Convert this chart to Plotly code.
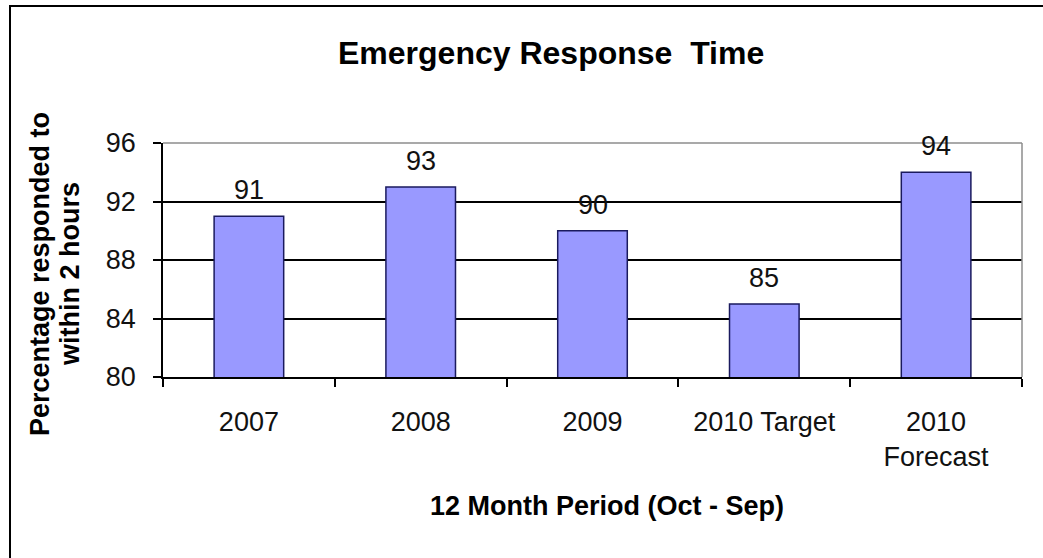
import plotly.graph_objects as go

# ---- data ----
categories = ["2007", "2008", "2009", "2010 Target", "2010<br>Forecast"]
values = [91, 93, 90, 85, 94]
y_ticks = [80, 84, 88, 92, 96]

title_text = "Emergency Response&nbsp; Time"
x_title = "12 Month Period (Oct - Sep)"
y_title_lines = ["Percentage responded to", "within 2 hours"]

# ---- layout geometry (pixels) ----
W, H = 1043, 558
L, R, T, B = 163, 21, 143, 181
PW, PH = W - L - R, H - T - B


def px(x):
    return (x - L) / PW


def py(y):
    return (H - B - y) / PH


FONT = "Liberation Sans, Arial, sans-serif"
positions = list(range(len(categories)))

fig = go.Figure()
fig.add_trace(go.Bar(
    x=positions, y=values,
    marker=dict(color="#9999FF", line=dict(color="#1a1a5e", width=1.5)),
    width=0.405,
    hovertext=categories, hoverinfo="text+y",
))

annotations = []
for p, v in zip(positions, values):
    annotations.append(dict(
        x=p, y=v, xref="x", yref="y", text=str(v), showarrow=False,
        yanchor="middle", yshift=26,
        font=dict(family=FONT, size=27, color="#111111"),
    ))

annotations.append(dict(
    x=px(551), y=py(53), xref="paper", yref="paper", text="<b>" + title_text + "</b>",
    showarrow=False, xanchor="center", yanchor="middle",
    font=dict(family=FONT, size=32, color="#000000"),
))
annotations.append(dict(
    x=px(607), y=py(506), xref="paper", yref="paper", text="<b>" + x_title + "</b>",
    showarrow=False, xanchor="center", yanchor="middle",
    font=dict(family=FONT, size=27, color="#000000"),
))
for xc, line in zip([40, 70], y_title_lines):
    annotations.append(dict(
        x=px(xc), y=py(274), xref="paper", yref="paper", text="<b>" + line + "</b>",
        showarrow=False, xanchor="center", yanchor="middle", textangle=-90,
        font=dict(family=FONT, size=27, color="#000000"),
    ))

shapes = [
    # outer chart border
    dict(type="rect", xref="paper", yref="paper",
         x0=px(10), x1=px(1070), y0=py(6), y1=py(580),
         line=dict(color="#000000", width=2), layer="below"),
    # plot area top and right borders (gray)
    dict(type="line", xref="paper", yref="paper", x0=0, x1=1, y0=1, y1=1,
         line=dict(color="#8c8c8c", width=1.5), layer="above"),
    dict(type="line", xref="paper", yref="paper", x0=1, x1=1, y0=0, y1=1,
         line=dict(color="#8c8c8c", width=1.5), layer="above"),
]

fig.update_layout(
    width=W, height=H,
    margin=dict(l=L, r=R, t=T, b=B, pad=0),
    paper_bgcolor="white", plot_bgcolor="white",
    showlegend=False,
    annotations=annotations,
    shapes=shapes,
    font=dict(family=FONT, size=27, color="#111111"),
)

fig.update_xaxes(
    range=[-0.5, len(categories) - 0.5],
    tickmode="array", tickvals=positions, ticktext=categories,
    showline=True, linecolor="#000000", linewidth=1.5,
    ticks="", tickangle=0,
    minor=dict(tickmode="linear", tick0=0.5, dtick=1, ticks="outside",
               ticklen=8, tickcolor="#000000", tickwidth=1.5, showgrid=False),
    tickfont=dict(family=FONT, size=27, color="#111111"),
    ticklabelstandoff=20,
    showgrid=False, zeroline=False,
)
fig.update_yaxes(
    range=[80, 96], tickvals=y_ticks,
    showline=True, linecolor="#000000", linewidth=1.5,
    ticks="outside", ticklen=8, tickcolor="#000000", tickwidth=1.5,
    tickfont=dict(family=FONT, size=27, color="#111111"),
    ticklabelstandoff=12,
    showgrid=True, gridcolor="#000000", gridwidth=1.5,
    zeroline=False,
)

fig.write_html("out.html")
